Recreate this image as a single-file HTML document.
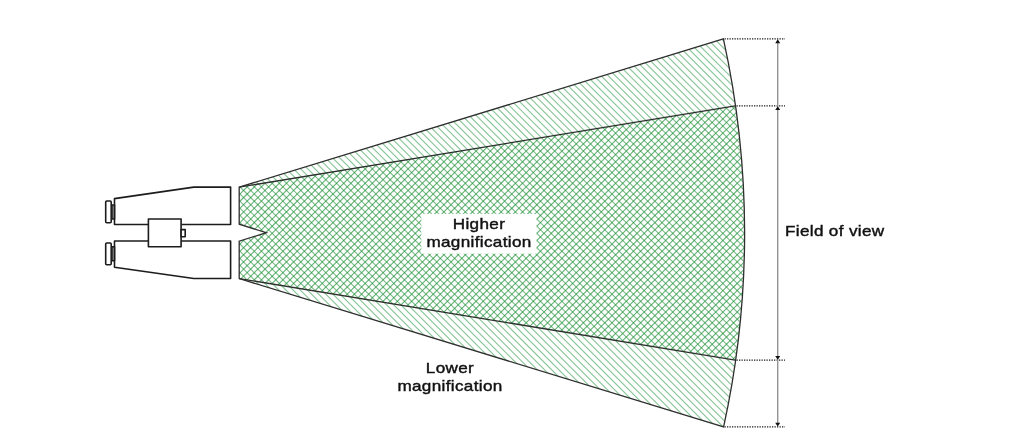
<!DOCTYPE html>
<html><head><meta charset="utf-8"><style>
html,body{margin:0;padding:0;background:#fff;width:1013px;height:440px;overflow:hidden;position:relative}
svg{position:absolute;left:0;top:0}
.t{position:absolute;font-family:"Liberation Sans",sans-serif;color:#111;font-size:15px;font-weight:normal;letter-spacing:0.3px;-webkit-text-stroke:0.42px #111;line-height:18px;text-align:center;white-space:nowrap;will-change:transform}
</style></head><body>
<svg width="1013" height="440" viewBox="0 0 1013 440">
<defs>
<filter id="bl" x="-5%" y="-5%" width="110%" height="110%"><feGaussianBlur stdDeviation="0.3"/></filter>
<clipPath id="co"><path d="M239.20,187.20 L723.40,38.90 A902.0,902.0 0 0,1 723.60,426.90 L239.20,278.60 L239.20,241.20 L266.30,232.70 L239.20,224.20 Z"/></clipPath>
<clipPath id="cw"><path d="M239.20,187.20 L723.40,38.90 A902.0,902.0 0 0,1 735.20,105.90 Z M239.20,278.60 L735.20,360.10 A902.0,902.0 0 0,1 723.60,426.90 Z"/></clipPath>
<clipPath id="ci"><path d="M239.20,187.20 L735.20,105.90 A902.0,902.0 0 0,1 735.20,360.10 L239.20,278.60 L239.20,241.20 L266.30,232.70 L239.20,224.20 Z"/></clipPath>
</defs>
<g filter="url(#bl)"><g clip-path="url(#cw)"><path d="M-181.57,30 L223.43,435 M-174.42,30 L230.58,435 M-167.26,30 L237.74,435 M-160.11,30 L244.89,435 M-152.95,30 L252.05,435 M-145.80,30 L259.20,435 M-138.65,30 L266.35,435 M-131.49,30 L273.51,435 M-124.34,30 L280.66,435 M-117.18,30 L287.82,435 M-110.03,30 L294.97,435 M-102.88,30 L302.12,435 M-95.72,30 L309.28,435 M-88.57,30 L316.43,435 M-81.41,30 L323.59,435 M-74.26,30 L330.74,435 M-67.11,30 L337.89,435 M-59.95,30 L345.05,435 M-52.80,30 L352.20,435 M-45.64,30 L359.36,435 M-38.49,30 L366.51,435 M-31.34,30 L373.66,435 M-24.18,30 L380.82,435 M-17.03,30 L387.97,435 M-9.87,30 L395.13,435 M-2.72,30 L402.28,435 M4.43,30 L409.43,435 M11.59,30 L416.59,435 M18.74,30 L423.74,435 M25.90,30 L430.90,435 M33.05,30 L438.05,435 M40.20,30 L445.20,435 M47.36,30 L452.36,435 M54.51,30 L459.51,435 M61.67,30 L466.67,435 M68.82,30 L473.82,435 M75.97,30 L480.97,435 M83.13,30 L488.13,435 M90.28,30 L495.28,435 M97.44,30 L502.44,435 M104.59,30 L509.59,435 M111.74,30 L516.74,435 M118.90,30 L523.90,435 M126.05,30 L531.05,435 M133.21,30 L538.21,435 M140.36,30 L545.36,435 M147.51,30 L552.51,435 M154.67,30 L559.67,435 M161.82,30 L566.82,435 M168.98,30 L573.98,435 M176.13,30 L581.13,435 M183.28,30 L588.28,435 M190.44,30 L595.44,435 M197.59,30 L602.59,435 M204.75,30 L609.75,435 M211.90,30 L616.90,435 M219.05,30 L624.05,435 M226.21,30 L631.21,435 M233.36,30 L638.36,435 M240.52,30 L645.52,435 M247.67,30 L652.67,435 M254.82,30 L659.82,435 M261.98,30 L666.98,435 M269.13,30 L674.13,435 M276.29,30 L681.29,435 M283.44,30 L688.44,435 M290.59,30 L695.59,435 M297.75,30 L702.75,435 M304.90,30 L709.90,435 M312.06,30 L717.06,435 M319.21,30 L724.21,435 M326.36,30 L731.36,435 M333.52,30 L738.52,435 M340.67,30 L745.67,435 M347.83,30 L752.83,435 M354.98,30 L759.98,435 M362.13,30 L767.13,435 M369.29,30 L774.29,435 M376.44,30 L781.44,435 M383.60,30 L788.60,435 M390.75,30 L795.75,435 M397.90,30 L802.90,435 M405.06,30 L810.06,435 M412.21,30 L817.21,435 M419.37,30 L824.37,435 M426.52,30 L831.52,435 M433.67,30 L838.67,435 M440.83,30 L845.83,435 M447.98,30 L852.98,435 M455.14,30 L860.14,435 M462.29,30 L867.29,435 M469.44,30 L874.44,435 M476.60,30 L881.60,435 M483.75,30 L888.75,435 M490.91,30 L895.91,435 M498.06,30 L903.06,435 M505.21,30 L910.21,435 M512.37,30 L917.37,435 M519.52,30 L924.52,435 M526.68,30 L931.68,435 M533.83,30 L938.83,435 M540.98,30 L945.98,435 M548.14,30 L953.14,435 M555.29,30 L960.29,435 M562.45,30 L967.45,435 M569.60,30 L974.60,435 M576.75,30 L981.75,435 M583.91,30 L988.91,435 M591.06,30 L996.06,435 M598.22,30 L1003.22,435 M605.37,30 L1010.37,435 M612.52,30 L1017.52,435 M619.68,30 L1024.68,435 M626.83,30 L1031.83,435 M633.99,30 L1038.99,435 M641.14,30 L1046.14,435 M648.29,30 L1053.29,435 M655.45,30 L1060.45,435 M662.60,30 L1067.60,435 M669.76,30 L1074.76,435 M676.91,30 L1081.91,435 M684.06,30 L1089.06,435 M691.22,30 L1096.22,435 M698.37,30 L1103.37,435 M705.53,30 L1110.53,435 M712.68,30 L1117.68,435 M719.83,30 L1124.83,435 M726.99,30 L1131.99,435 M734.14,30 L1139.14,435 M741.30,30 L1146.30,435 M748.45,30 L1153.45,435 M755.60,30 L1160.60,435 M762.76,30 L1167.76,435" stroke="#1a8e32" stroke-width="1.1" fill="none" opacity="0.52"/></g>
<g clip-path="url(#ci)"><path d="M-181.57,30 L223.43,435 M-174.42,30 L230.58,435 M-167.26,30 L237.74,435 M-160.11,30 L244.89,435 M-152.95,30 L252.05,435 M-145.80,30 L259.20,435 M-138.65,30 L266.35,435 M-131.49,30 L273.51,435 M-124.34,30 L280.66,435 M-117.18,30 L287.82,435 M-110.03,30 L294.97,435 M-102.88,30 L302.12,435 M-95.72,30 L309.28,435 M-88.57,30 L316.43,435 M-81.41,30 L323.59,435 M-74.26,30 L330.74,435 M-67.11,30 L337.89,435 M-59.95,30 L345.05,435 M-52.80,30 L352.20,435 M-45.64,30 L359.36,435 M-38.49,30 L366.51,435 M-31.34,30 L373.66,435 M-24.18,30 L380.82,435 M-17.03,30 L387.97,435 M-9.87,30 L395.13,435 M-2.72,30 L402.28,435 M4.43,30 L409.43,435 M11.59,30 L416.59,435 M18.74,30 L423.74,435 M25.90,30 L430.90,435 M33.05,30 L438.05,435 M40.20,30 L445.20,435 M47.36,30 L452.36,435 M54.51,30 L459.51,435 M61.67,30 L466.67,435 M68.82,30 L473.82,435 M75.97,30 L480.97,435 M83.13,30 L488.13,435 M90.28,30 L495.28,435 M97.44,30 L502.44,435 M104.59,30 L509.59,435 M111.74,30 L516.74,435 M118.90,30 L523.90,435 M126.05,30 L531.05,435 M133.21,30 L538.21,435 M140.36,30 L545.36,435 M147.51,30 L552.51,435 M154.67,30 L559.67,435 M161.82,30 L566.82,435 M168.98,30 L573.98,435 M176.13,30 L581.13,435 M183.28,30 L588.28,435 M190.44,30 L595.44,435 M197.59,30 L602.59,435 M204.75,30 L609.75,435 M211.90,30 L616.90,435 M219.05,30 L624.05,435 M226.21,30 L631.21,435 M233.36,30 L638.36,435 M240.52,30 L645.52,435 M247.67,30 L652.67,435 M254.82,30 L659.82,435 M261.98,30 L666.98,435 M269.13,30 L674.13,435 M276.29,30 L681.29,435 M283.44,30 L688.44,435 M290.59,30 L695.59,435 M297.75,30 L702.75,435 M304.90,30 L709.90,435 M312.06,30 L717.06,435 M319.21,30 L724.21,435 M326.36,30 L731.36,435 M333.52,30 L738.52,435 M340.67,30 L745.67,435 M347.83,30 L752.83,435 M354.98,30 L759.98,435 M362.13,30 L767.13,435 M369.29,30 L774.29,435 M376.44,30 L781.44,435 M383.60,30 L788.60,435 M390.75,30 L795.75,435 M397.90,30 L802.90,435 M405.06,30 L810.06,435 M412.21,30 L817.21,435 M419.37,30 L824.37,435 M426.52,30 L831.52,435 M433.67,30 L838.67,435 M440.83,30 L845.83,435 M447.98,30 L852.98,435 M455.14,30 L860.14,435 M462.29,30 L867.29,435 M469.44,30 L874.44,435 M476.60,30 L881.60,435 M483.75,30 L888.75,435 M490.91,30 L895.91,435 M498.06,30 L903.06,435 M505.21,30 L910.21,435 M512.37,30 L917.37,435 M519.52,30 L924.52,435 M526.68,30 L931.68,435 M533.83,30 L938.83,435 M540.98,30 L945.98,435 M548.14,30 L953.14,435 M555.29,30 L960.29,435 M562.45,30 L967.45,435 M569.60,30 L974.60,435 M576.75,30 L981.75,435 M583.91,30 L988.91,435 M591.06,30 L996.06,435 M598.22,30 L1003.22,435 M605.37,30 L1010.37,435 M612.52,30 L1017.52,435 M619.68,30 L1024.68,435 M626.83,30 L1031.83,435 M633.99,30 L1038.99,435 M641.14,30 L1046.14,435 M648.29,30 L1053.29,435 M655.45,30 L1060.45,435 M662.60,30 L1067.60,435 M669.76,30 L1074.76,435 M676.91,30 L1081.91,435 M684.06,30 L1089.06,435 M691.22,30 L1096.22,435 M698.37,30 L1103.37,435 M705.53,30 L1110.53,435 M712.68,30 L1117.68,435 M719.83,30 L1124.83,435 M726.99,30 L1131.99,435 M734.14,30 L1139.14,435 M741.30,30 L1146.30,435 M748.45,30 L1153.45,435 M755.60,30 L1160.60,435 M762.76,30 L1167.76,435" stroke="#1a8e32" stroke-width="1.1" fill="none" opacity="0.58"/></g>
<g clip-path="url(#ci)"><path d="M225.12,30 L-179.88,435 M232.28,30 L-172.72,435 M239.43,30 L-165.57,435 M246.59,30 L-158.41,435 M253.74,30 L-151.26,435 M260.89,30 L-144.11,435 M268.05,30 L-136.95,435 M275.20,30 L-129.80,435 M282.36,30 L-122.64,435 M289.51,30 L-115.49,435 M296.66,30 L-108.34,435 M303.82,30 L-101.18,435 M310.97,30 L-94.03,435 M318.13,30 L-86.87,435 M325.28,30 L-79.72,435 M332.43,30 L-72.57,435 M339.59,30 L-65.41,435 M346.74,30 L-58.26,435 M353.90,30 L-51.10,435 M361.05,30 L-43.95,435 M368.20,30 L-36.80,435 M375.36,30 L-29.64,435 M382.51,30 L-22.49,435 M389.67,30 L-15.33,435 M396.82,30 L-8.18,435 M403.97,30 L-1.03,435 M411.13,30 L6.13,435 M418.28,30 L13.28,435 M425.44,30 L20.44,435 M432.59,30 L27.59,435 M439.74,30 L34.74,435 M446.90,30 L41.90,435 M454.05,30 L49.05,435 M461.21,30 L56.21,435 M468.36,30 L63.36,435 M475.51,30 L70.51,435 M482.67,30 L77.67,435 M489.82,30 L84.82,435 M496.98,30 L91.98,435 M504.13,30 L99.13,435 M511.28,30 L106.28,435 M518.44,30 L113.44,435 M525.59,30 L120.59,435 M532.75,30 L127.75,435 M539.90,30 L134.90,435 M547.05,30 L142.05,435 M554.21,30 L149.21,435 M561.36,30 L156.36,435 M568.52,30 L163.52,435 M575.67,30 L170.67,435 M582.82,30 L177.82,435 M589.98,30 L184.98,435 M597.13,30 L192.13,435 M604.29,30 L199.29,435 M611.44,30 L206.44,435 M618.59,30 L213.59,435 M625.75,30 L220.75,435 M632.90,30 L227.90,435 M640.06,30 L235.06,435 M647.21,30 L242.21,435 M654.36,30 L249.36,435 M661.52,30 L256.52,435 M668.67,30 L263.67,435 M675.83,30 L270.83,435 M682.98,30 L277.98,435 M690.13,30 L285.13,435 M697.29,30 L292.29,435 M704.44,30 L299.44,435 M711.60,30 L306.60,435 M718.75,30 L313.75,435 M725.90,30 L320.90,435 M733.06,30 L328.06,435 M740.21,30 L335.21,435 M747.37,30 L342.37,435 M754.52,30 L349.52,435 M761.67,30 L356.67,435 M768.83,30 L363.83,435 M775.98,30 L370.98,435 M783.14,30 L378.14,435 M790.29,30 L385.29,435 M797.44,30 L392.44,435 M804.60,30 L399.60,435 M811.75,30 L406.75,435 M818.91,30 L413.91,435 M826.06,30 L421.06,435 M833.21,30 L428.21,435 M840.37,30 L435.37,435 M847.52,30 L442.52,435 M854.68,30 L449.68,435 M861.83,30 L456.83,435 M868.98,30 L463.98,435 M876.14,30 L471.14,435 M883.29,30 L478.29,435 M890.45,30 L485.45,435 M897.60,30 L492.60,435 M904.75,30 L499.75,435 M911.91,30 L506.91,435 M919.06,30 L514.06,435 M926.22,30 L521.22,435 M933.37,30 L528.37,435 M940.52,30 L535.52,435 M947.68,30 L542.68,435 M954.83,30 L549.83,435 M961.99,30 L556.99,435 M969.14,30 L564.14,435 M976.29,30 L571.29,435 M983.45,30 L578.45,435 M990.60,30 L585.60,435 M997.76,30 L592.76,435 M1004.91,30 L599.91,435 M1012.06,30 L607.06,435 M1019.22,30 L614.22,435 M1026.37,30 L621.37,435 M1033.53,30 L628.53,435 M1040.68,30 L635.68,435 M1047.83,30 L642.83,435 M1054.99,30 L649.99,435 M1062.14,30 L657.14,435 M1069.30,30 L664.30,435 M1076.45,30 L671.45,435 M1083.60,30 L678.60,435 M1090.76,30 L685.76,435 M1097.91,30 L692.91,435 M1105.07,30 L700.07,435 M1112.22,30 L707.22,435 M1119.37,30 L714.37,435 M1126.53,30 L721.53,435 M1133.68,30 L728.68,435 M1140.84,30 L735.84,435 M1147.99,30 L742.99,435 M1155.14,30 L750.14,435 M1162.30,30 L757.30,435 M1169.45,30 L764.45,435" stroke="#1a8e32" stroke-width="1.1" fill="none" opacity="0.67"/></g></g>
<g fill="none" stroke="#2e2e2e" stroke-width="1.3" stroke-linejoin="miter">
<path d="M239.20,187.20 L723.40,38.90 A902.0,902.0 0 0,1 723.60,426.90 L239.20,278.60 L239.20,241.20 L266.30,232.70 L239.20,224.20 Z"/>
<path d="M239.20,187.20 L735.20,105.90"/>
<path d="M239.20,278.60 L735.20,360.10"/>
</g>

<g fill="#fff" stroke="#1c1c1c" stroke-width="1.6" stroke-linejoin="round">
  <path d="M114.5,198.6 L193.8,187.1 L230.6,187.1 L230.6,224.5 L114.5,224.5 Z"/>
  <path d="M114.5,267.2 L193.8,278.5 L230.6,278.5 L230.6,241.0 L114.5,241.0 Z"/>
  <rect x="105.7" y="201.0" width="5.5" height="21.8" rx="1"/>
  <rect x="105.7" y="243.0" width="5.5" height="21.8" rx="1"/>
  <rect x="111.9" y="205.0" width="2.6" height="14" fill="#999"/>
  <rect x="111.9" y="246.8" width="2.6" height="14" fill="#999"/>
  <rect x="148.4" y="219.0" width="32.7" height="27.8"/>
  <rect x="181.1" y="229.6" width="4.1" height="7.2"/>
</g>

<g stroke="#1c1c1c" stroke-width="1.1" stroke-dasharray="1.3 1.2" fill="none">
  <line x1="724.5" y1="38.9" x2="785" y2="38.9"/>
  <line x1="736.5" y1="105.9" x2="785" y2="105.9"/>
  <line x1="736.5" y1="360.1" x2="785" y2="360.1"/>
  <line x1="724.5" y1="426.9" x2="785" y2="426.9"/>
</g>
<line x1="777.7" y1="42" x2="777.7" y2="424" stroke="#939393" stroke-width="1.4"/>
<g fill="#111">
  <path d="M777.7,39.3 L775.2,43.2 L780.2,43.2 Z"/>
  <path d="M777.7,106.3 L775.2,110.0 L780.2,110.0 Z"/>
  <path d="M777.7,359.8 L775.2,356.1 L780.2,356.1 Z"/>
  <path d="M777.7,426.5 L775.2,422.8 L780.2,422.8 Z"/>
</g>
<rect x="421.3" y="213.9" width="115.3" height="39.8" fill="#fff"/>
</svg>
<div class="t" id="hm" style="left:421px;top:215px;width:116px;transform:scaleX(1.14)">Higher<br>magnification</div>
<div class="t" id="lm" style="left:390px;top:359px;width:120px;transform:scaleX(1.14)">Lower<br>magnification</div>
<div class="t" id="fv" style="left:785px;top:221.5px;text-align:left;transform:scaleX(1.14);transform-origin:0 0">Field of view</div>
</body></html>
